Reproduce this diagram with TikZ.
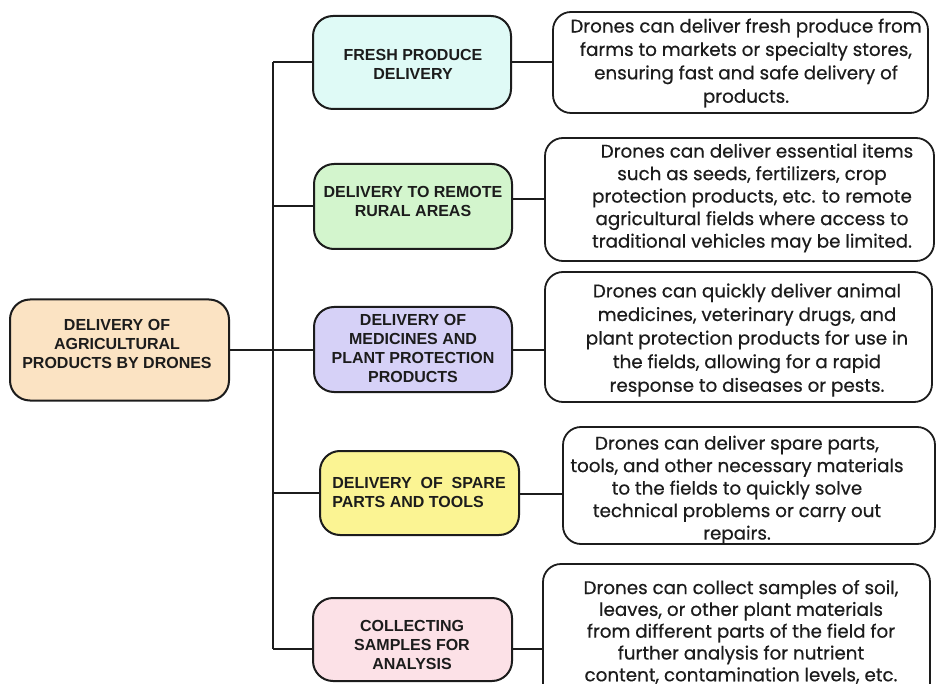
\documentclass[tikz,border=0pt]{standalone}
\usepackage{fontspec}
\setmainfont{Poppins}[FakeBold=0.5]
\newfontfamily\labelfont{Liberation Sans}
\definecolor{cmain}{HTML}{FBE3C3}
\definecolor{cfresh}{HTML}{DFFAF6}
\definecolor{crural}{HTML}{D3F5CD}
\definecolor{cmed}{HTML}{D6D1F7}
\definecolor{cspare}{HTML}{FBF493}
\definecolor{ccoll}{HTML}{FCE1E7}
\definecolor{ink}{HTML}{1C1C1C}
\tikzset{
  lbox/.style={draw=ink, line width=2pt, rounded corners=20pt, inner sep=0pt},
  rbox/.style={draw=ink, line width=1.8pt, rounded corners=18pt, inner sep=0pt, fill=white},
  ltext/.style={font=\labelfont\bfseries\fontsize{16}{19}\selectfont, text=ink, align=center, inner sep=0pt},
  rtext/.style={font=\fontsize{18.3}{23.4}\selectfont, text=ink, align=center, inner sep=0pt},
  conn/.style={draw=ink, line width=2pt}
}
\begin{document}
\begin{tikzpicture}[x=1pt,y=-1pt]
\useasboundingbox[fill=white] (0,0) rectangle (936,684);
% left label boxes
\node[lbox, fill=cmain, minimum width=219pt, minimum height=101pt] (main) at (119.5,350) {};
\node[ltext] (mainT) at (117,344) {DELIVERY OF\\AGRICULTURAL\\PRODUCTS BY DRONES};
\node[lbox, fill=cfresh, minimum width=198pt, minimum height=93pt] (fresh) at (412,62.5) {};
\node[ltext] (freshT) at (413,64.5) {FRESH PRODUCE\\DELIVERY};
\node[lbox, fill=crural, minimum width=198pt, minimum height=85pt] (rural) at (413,206.5) {};
\node[ltext] (ruralT) at (413,201.5) {DELIVERY TO REMOTE\\RURAL AREAS};
\node[lbox, fill=cmed, minimum width=198pt, minimum height=85pt] (med) at (413,349.5) {};
\node[ltext] (medT) at (413,348.5) {DELIVERY OF\\MEDICINES AND\\PLANT PROTECTION\\PRODUCTS};
\node[lbox, fill=cspare, minimum width=199pt, minimum height=84pt] (spare) at (419.5,493) {};
\node[ltext, align=left] (spareT) at (419,492) {DELIVERY\ \ OF\ \ SPARE\\PARTS AND TOOLS};
\node[lbox, fill=ccoll, minimum width=199pt, minimum height=83pt] (coll) at (412.5,639.5) {};
\node[ltext] (collT) at (412,645) {COLLECTING\\SAMPLES FOR\\ANALYSIS};
% right description boxes
\node[rbox, minimum width=375pt, minimum height=101pt] (d1) at (740.5,62.5) {};
\node[rtext] (d1T) at (746,63) {Drones can deliver fresh produce from\\farms to markets or specialty stores,\\ensuring fast and safe delivery of\\products.};
\node[rbox, minimum width=389pt, minimum height=123pt] (d2) at (739.5,199.5) {};
\node[rtext, font=\fontsize{18.3}{22.5}\selectfont] (d2T) at (752,198) {\hspace*{10pt}Drones can deliver essential items\\such as seeds, fertilizers, crop\\protection products, etc. to remote\\agricultural fields where access to\\traditional vehicles may be limited.};
\node[rbox, minimum width=387pt, minimum height=130pt] (d3) at (738.5,337) {};
\node[rtext, font=\fontsize{18.3}{23.6}\selectfont] (d3T) at (747,340) {Drones can quickly deliver animal\\medicines, veterinary drugs, and\\plant protection products for use in\\the fields, allowing for a rapid\\response to diseases or pests.};
\node[rbox, minimum width=372pt, minimum height=117pt] (d4) at (749,485.5) {};
\node[rtext, font=\fontsize{18.3}{22.5}\selectfont] (d4T) at (737,490) {Drones can deliver spare parts,\\tools, and other necessary materials\\to the fields to quickly solve\\technical problems or carry out\\repairs.};
\node[rbox, minimum width=387pt, minimum height=140pt] (d5) at (736.5,634) {};
\node[rtext, font=\fontsize{18.3}{21.8}\selectfont] (d5T) at (741,632) {Drones can collect samples of soil,\\leaves, or other plant materials\\from different parts of the field for\\further analysis for nutrient\\content, contamination levels, etc.};
% trunk
\coordinate (tTop) at (273,62);
\coordinate (tMid) at (273,350);
\coordinate (tB2) at (273,206);
\coordinate (tB4) at (273,493);
\coordinate (tBot) at (273,649);
\draw[conn] (tTop) -- (tBot);
\draw[conn] (main.east |- tMid) -- (tMid);
\draw[conn] (tTop) -- (fresh.west |- tTop);
\draw[conn] (tB2) -- (rural.west |- tB2);
\draw[conn] (tMid) -- (med.west |- tMid);
\draw[conn] (tB4) -- (spare.west |- tB4);
\draw[conn] (tBot) -- (coll.west |- tBot);
% right connectors
\coordinate (y1) at (0,62);
\coordinate (y2) at (0,199);
\coordinate (y3) at (0,350);
\coordinate (y4) at (0,494);
\coordinate (y5) at (0,649);
\draw[conn] (fresh.east |- y1) -- (d1.west |- y1);
\draw[conn] (rural.east |- y2) -- (d2.west |- y2);
\draw[conn] (med.east |- y3) -- (d3.west |- y3);
\draw[conn] (spare.east |- y4) -- (d4.west |- y4);
\draw[conn] (coll.east |- y5) -- (d5.west |- y5);
\end{tikzpicture}
\end{document}
